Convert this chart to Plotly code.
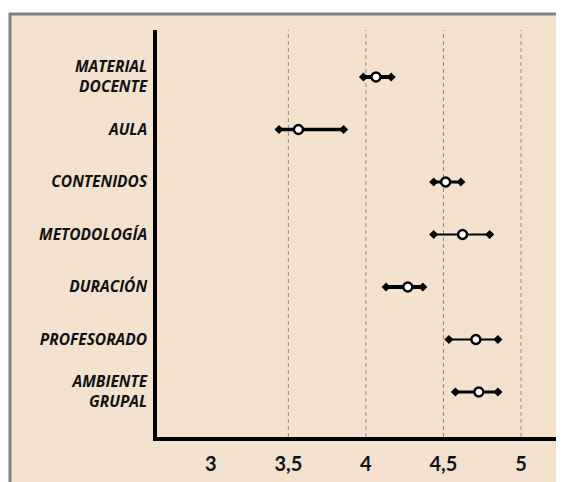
import plotly.graph_objects as go

# ---- data (top to bottom) ----
categories = ["MATERIAL<br>DOCENTE", "AULA", "CONTENIDOS", "METODOLOGÍA",
              "DURACIÓN", "PROFESORADO", "AMBIENTE<br>GRUPAL"]
mean_vals = [4.065, 3.565, 4.514, 4.623, 4.27, 4.709, 4.728]
min_vals = [3.984, 3.44, 4.437, 4.437, 4.13, 4.535, 4.577]
max_vals = [4.163, 3.856, 4.612, 4.798, 4.367, 4.851, 4.851]
x_ticks = [3, 3.5, 4, 4.5, 5]
x_tick_labels = ["3", "3,5", "4", "4,5", "5"]
grid_vals = [3.5, 4, 4.5, 5]

# ---- styles ----
line_widths = [4, 3.5, 3, 2, 4, 1.8, 3]
BEIGE = "#F4E2CF"
OFF = 8  # default page body margin
W, H = 564 - OFF, 482 - OFF
ML, MR, MT, MB = 157 - OFF, 5, 30 - OFF, 45
pw, ph = W - ML - MR, H - MT - MB

fig = go.Figure()

# beige panel with grey border (first so grid lines are drawn on top)
fig.add_shape(type="rect", xref="paper", yref="paper",
              x0=(10 - OFF - ML) / pw, x1=1.2, y0=-0.3,
              y1=(H - MB - (14 - OFF)) / ph,
              fillcolor=BEIGE, line=dict(color="#808080", width=3),
              layer="below")

for g in grid_vals:
    fig.add_vline(x=g, line=dict(color="#8a8a8a", width=1, dash="4px,3px"),
                  layer="below")

for cat, lo, hi, lw in zip(categories, min_vals, max_vals, line_widths):
    fig.add_trace(go.Scatter(
        x=[lo, hi], y=[cat, cat], mode="lines+markers",
        line=dict(color="black", width=lw),
        marker=dict(symbol="diamond", size=7, color="black"),
        showlegend=False, hoverinfo="skip"))

fig.add_trace(go.Scatter(
    x=mean_vals, y=categories, mode="markers",
    marker=dict(symbol="circle", size=9, color="white",
                line=dict(color="black", width=2.4)),
    showlegend=False))

fig.update_layout(
    width=W, height=H,
    margin=dict(l=ML, r=MR, t=MT, b=MB),
    paper_bgcolor="white", plot_bgcolor="rgba(0,0,0,0)",
    xaxis=dict(range=[2.653, 5.245], tickvals=x_ticks, ticktext=x_tick_labels,
               showgrid=False, zeroline=False, showline=True,
               linecolor="black", linewidth=3.5,
               ticks="outside", ticklen=6, tickcolor="rgba(0,0,0,0)",
               tickfont=dict(family="Lato", size=20, color="#111111",
                             weight="bold"),
               fixedrange=True),
    yaxis=dict(type="category", categoryorder="array",
               categoryarray=categories[::-1], range=[-0.857, 6.895],
               showgrid=False, zeroline=False, showline=True,
               linecolor="black", linewidth=3.5,
               ticks="outside", ticklen=3, tickcolor="rgba(0,0,0,0)",
               tickfont=dict(family="Open Sans", size=15.5, color="#111111",
                             weight="bold", style="italic"),
               fixedrange=True),
)

fig.write_html("out.html")
